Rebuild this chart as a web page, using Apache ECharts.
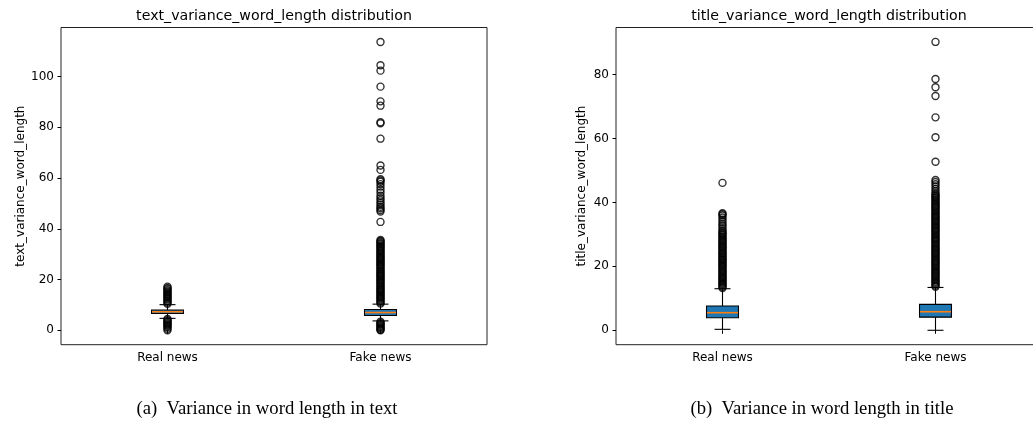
<!DOCTYPE html>
<html>
<head>
<meta charset="utf-8">
<style>html,body{margin:0;padding:0;background:#fff;}#c{width:1033px;height:426px;}</style>
<script src="https://cdn.jsdelivr.net/npm/echarts@6/dist/echarts.min.js"></script>
</head>
<body>
<div id="c"></div>
<script>
// ---- data ----
const categories = ['Real news', 'Fake news'];

// box stats: [lower whisker, Q1, median, Q3, upper whisker]
const textBoxReal = [4.7, 6.6, 7.3, 8.0, 10.1];
const textBoxFake = [3.7, 5.8, 7.0, 8.2, 10.3];
const titleBoxReal = [0.3, 3.9, 5.5, 7.6, 13.0];
const titleBoxFake = [0.0, 4.1, 5.8, 8.1, 13.4];

// outliers
const textOutReal = [
  0.0, 0.6, 1.2, 1.7, 2.1, 2.5, 2.9, 3.3, 3.7, 4.1, 4.5,
  10.4, 10.8, 11.3, 11.7, 12.2, 12.6, 13.1, 13.5, 14.0, 14.4, 14.9, 15.3, 15.8, 16.3, 16.7, 17.2
];
const textOutFake = [
  0.0, 0.2, 0.6, 1.0, 1.4, 1.8, 2.2, 2.6, 3.0, 3.4,
  10.5, 10.9, 11.4, 11.8, 12.3, 12.7, 13.2, 13.6, 14.1, 14.5, 15.0, 15.4, 15.9, 16.3, 16.8, 17.2,
  17.7, 18.1, 18.6, 19.0, 19.5, 19.9, 20.4, 20.9, 21.3, 21.7, 22.2, 22.6, 23.1, 23.5, 24.0, 24.4,
  24.9, 25.4, 25.8, 26.2, 26.7, 27.1, 27.6, 28.0, 28.5, 28.9, 29.4, 29.8, 30.3, 30.7, 31.2, 31.6,
  32.1, 32.6, 33.0, 33.4, 33.9, 34.3, 34.8, 35.2, 35.6,
  42.7, 46.8, 47.4, 48.1, 48.7, 49.6, 50.3, 51.2, 52.0, 53.0, 54.3, 55.4, 56.6, 57.6, 58.5, 59.0, 59.5,
  63.2, 64.9, 75.5, 81.6, 82.0, 88.5, 90.2, 96.0, 102.3, 104.4, 113.6
];
const titleOutReal = [
  13.2, 13.6, 14.0, 14.4, 14.7, 15.1, 15.5, 15.9, 16.3, 16.6, 17.0, 17.4, 17.8, 18.2, 18.5, 18.9,
  19.3, 19.7, 20.1, 20.4, 20.8, 21.2, 21.6, 22.0, 22.3, 22.7, 23.1, 23.5, 23.9, 24.2, 24.6, 25.0,
  25.4, 25.8, 26.1, 26.5, 26.9, 27.3, 27.7, 28.1, 28.5, 28.9, 29.3, 29.7, 30.1, 30.4,
  30.8, 31.3, 31.9, 32.6, 33.2, 33.9, 34.6, 35.3, 35.9, 36.3, 36.6, 46.1
];
const titleOutFake = [
  13.6, 14.0, 14.4, 14.8, 15.2, 15.6, 16.0, 16.4, 16.8, 17.2, 17.6, 18.0, 18.4, 18.8, 19.2, 19.6,
  20.0, 20.4, 20.8, 21.2, 21.6, 22.0, 22.4, 22.8, 23.2, 23.6, 24.0, 24.4, 24.8, 25.2, 25.6, 26.0,
  26.4, 26.8, 27.2, 27.6, 28.0, 28.4, 28.8, 29.2, 29.6, 30.0, 30.4, 30.8, 31.2, 31.6, 32.0, 32.4,
  32.8, 33.2, 33.6, 34.0, 34.4, 34.8, 35.2, 35.6, 36.0, 36.4, 36.8, 37.2, 37.6, 38.0, 38.4, 38.8,
  39.2, 39.6, 40.0, 40.4, 40.8, 41.2, 41.6, 42.0, 42.4, 42.8,
  43.5, 44.2, 45.0, 45.7, 46.4, 47.0, 52.7, 60.4, 66.6, 73.3, 76.0, 78.6, 90.2
];

const textTicks = [0, 20, 40, 60, 80, 100];
const titleTicks = [0, 20, 40, 60, 80];

const titles = ['text_variance_word_length distribution', 'title_variance_word_length distribution'];
const yNames = ['text_variance_word_length', 'title_variance_word_length'];
const captions = ['(a)  Variance in word length in text', '(b)  Variance in word length in title'];

// ---- chart ----
const FONT = 'DejaVu Sans';
const chart = echarts.init(document.getElementById('c'), null, {renderer: 'canvas'});

function renderBox(params, api) {
  const x = api.value(0);
  const lo = api.coord([x, api.value(1)]);
  const q1 = api.coord([x, api.value(2)]);
  const md = api.coord([x, api.value(3)]);
  const q3 = api.coord([x, api.value(4)]);
  const hi = api.coord([x, api.value(5)]);
  const band = api.size([1, 0])[0];
  const w = band * 0.15;
  const cw = w / 2;
  const cx = lo[0];
  const ls = {stroke: '#000', lineWidth: 1.1};
  return {
    type: 'group',
    children: [
      {type: 'line', shape: {x1: cx, y1: hi[1], x2: cx, y2: q3[1]}, style: ls},
      {type: 'line', shape: {x1: cx, y1: q1[1], x2: cx, y2: lo[1]}, style: ls},
      {type: 'line', shape: {x1: cx - cw / 2, y1: hi[1], x2: cx + cw / 2, y2: hi[1]}, style: ls},
      {type: 'line', shape: {x1: cx - cw / 2, y1: lo[1], x2: cx + cw / 2, y2: lo[1]}, style: ls},
      {type: 'rect', shape: {x: cx - w / 2, y: q3[1], width: w, height: q1[1] - q3[1]},
        style: {fill: '#1f77b4', stroke: '#000', lineWidth: 1.1}},
      {type: 'line', shape: {x1: cx - w / 2 + 0.5, y1: md[1], x2: cx + w / 2 - 0.5, y2: md[1]},
        style: {stroke: '#ff7f0e', lineWidth: 1.6}}
    ]
  };
}

function boxData(realStats, fakeStats) {
  return [[0].concat(realStats), [1].concat(fakeStats)];
}
function outData(realOut, fakeOut) {
  return realOut.map(v => [0, v]).concat(fakeOut.map(v => [1, v]));
}

function xAxisCfg(gi) {
  return {
    type: 'category', gridIndex: gi, data: categories, boundaryGap: true,
    axisLine: {show: false},
    axisTick: {show: true, alignWithLabel: true, length: 3.5, lineStyle: {color: '#000', width: 1}},
    axisLabel: {fontFamily: FONT, fontSize: 12, color: '#000', margin: 7},
    splitLine: {show: false}
  };
}
function yAxisCfg(gi, min, max, ticks, name, gap) {
  return {
    type: 'value', gridIndex: gi, min: min, max: max,
    axisLine: {show: false},
    axisTick: {show: true, length: 3.5, customValues: ticks, lineStyle: {color: '#000', width: 1}},
    axisLabel: {customValues: ticks, fontFamily: FONT, fontSize: 12, color: '#000', margin: 7},
    splitLine: {show: false},
    name: name, nameLocation: 'middle', nameGap: gap, nameRotate: 90,
    nameTextStyle: {fontFamily: FONT, fontSize: 12, color: '#000'}
  };
}

const outStyle = {color: 'rgba(0,0,0,0)', borderColor: '#000', borderWidth: 1.4};

chart.setOption({
  backgroundColor: '#fff',
  animation: false,
  grid: [
    {left: 61, top: 27.5, width: 426, height: 317.2, show: true, borderColor: '#222', borderWidth: 1, backgroundColor: '#fff', outerBoundsMode: 'none', containLabel: false},
    {left: 616, top: 27.5, width: 426, height: 317.2, show: true, borderColor: '#222', borderWidth: 1, backgroundColor: '#fff', outerBoundsMode: 'none', containLabel: false}
  ],
  xAxis: [xAxisCfg(0), xAxisCfg(1)],
  yAxis: [
    yAxisCfg(0, -5.68, 119.3, textTicks, yNames[0], 34),
    yAxisCfg(1, -4.51, 94.71, titleTicks, yNames[1], 28)
  ],
  graphic: [
    {type: 'text', x: 274, y: 16, style: {text: titles[0], fontFamily: FONT, fontSize: 14.2, fill: '#000', align: 'center', verticalAlign: 'middle'}},
    {type: 'text', x: 829, y: 16, style: {text: titles[1], fontFamily: FONT, fontSize: 14.2, fill: '#000', align: 'center', verticalAlign: 'middle'}},
    {type: 'text', x: 267, y: 409, style: {text: captions[0], fontFamily: 'Liberation Serif', fontSize: 18.7, fill: '#000', align: 'center', verticalAlign: 'middle'}},
    {type: 'text', x: 822, y: 409, style: {text: captions[1], fontFamily: 'Liberation Serif', fontSize: 18.7, fill: '#000', align: 'center', verticalAlign: 'middle'}}
  ],
  series: [
    {type: 'custom', xAxisIndex: 0, yAxisIndex: 0, renderItem: renderBox, encode: {x: 0, y: [1, 2, 3, 4, 5]}, data: boxData(textBoxReal, textBoxFake), z: 2},
    {type: 'custom', xAxisIndex: 1, yAxisIndex: 1, renderItem: renderBox, encode: {x: 0, y: [1, 2, 3, 4, 5]}, data: boxData(titleBoxReal, titleBoxFake), z: 2},
    {type: 'scatter', xAxisIndex: 0, yAxisIndex: 0, symbol: 'circle', symbolSize: 7, itemStyle: outStyle, data: outData(textOutReal, textOutFake), z: 3, silent: true},
    {type: 'scatter', xAxisIndex: 1, yAxisIndex: 1, symbol: 'circle', symbolSize: 7, itemStyle: outStyle, data: outData(titleOutReal, titleOutFake), z: 3, silent: true}
  ]
});
</script>
</body>
</html>
